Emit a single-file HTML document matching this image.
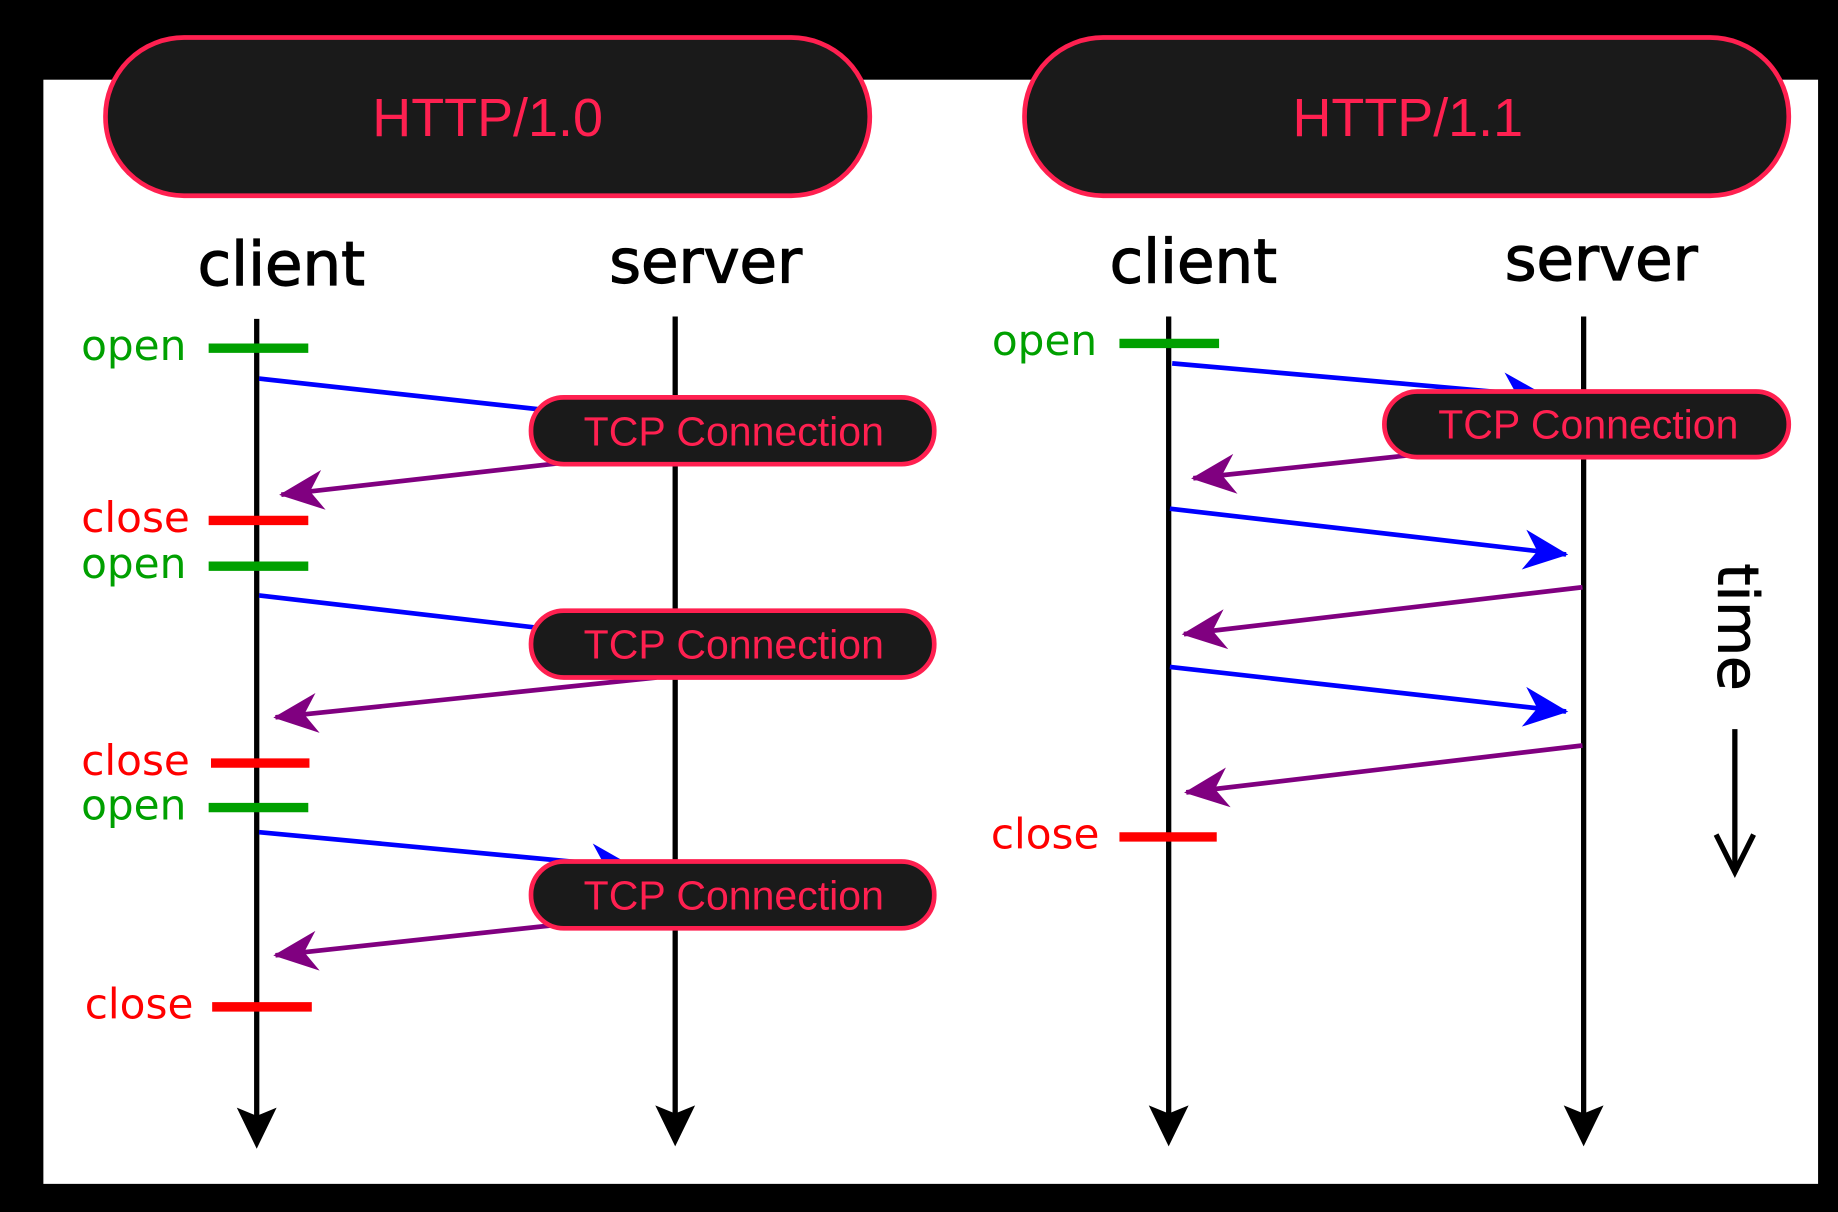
<!DOCTYPE html>
<html><head><meta charset="utf-8"><style>
html,body{margin:0;padding:0;background:#000;}
svg{display:block;}
</style></head><body>
<svg width="1838" height="1212" viewBox="0 0 1568 1034" preserveAspectRatio="none" xmlns="http://www.w3.org/2000/svg">
<defs>
<marker id="ab" viewBox="0 0 20 20" refX="19" refY="10" markerWidth="38" markerHeight="38" markerUnits="userSpaceOnUse" orient="auto"><path d="M0,1 L20,10 L0,19 L6,10 z" fill="#0000ff"/></marker>
<marker id="ap" viewBox="0 0 20 20" refX="19" refY="10" markerWidth="38" markerHeight="38" markerUnits="userSpaceOnUse" orient="auto"><path d="M0,1 L20,10 L0,19 L6,10 z" fill="#800080"/></marker>
</defs>
<rect x="0" y="0" width="1568" height="1034" fill="#000"/>
<rect x="37" y="68" width="1514" height="942" fill="#fff"/>

<g font-family="DejaVu Sans, sans-serif" font-size="52" fill="#000" stroke="#000" stroke-width="1" text-anchor="middle">
<text x="240" y="243">client</text><text x="602" y="241">server</text>
<text x="1018" y="241">client</text><text x="1366" y="239">server</text>
</g>

<g stroke="#000" stroke-width="4.5" fill="none">
<line x1="219" y1="272" x2="219" y2="960"/>
<line x1="576" y1="270" x2="576" y2="958"/>
<line x1="997" y1="270" x2="997" y2="958"/>
<line x1="1351" y1="270" x2="1351" y2="958"/>
<line x1="1480" y1="622" x2="1480" y2="742"/><polyline points="1464,712 1480,744 1496,712"/>
</g>
<g fill="#000">
<path d="M202,945 L219,952 L236,945 L219,980 z"/>
<path d="M559,943 L576,950 L593,943 L576,978 z"/>
<path d="M980,943 L997,950 L1014,943 L997,978 z"/>
<path d="M1334,943 L1351,950 L1368,943 L1351,978 z"/>
</g>

<g stroke-width="8">
<line x1="178" y1="297" x2="263" y2="297" stroke="#00a000"/>
<line x1="178" y1="444" x2="263" y2="444" stroke="#ff0000"/>
<line x1="178" y1="483" x2="263" y2="483" stroke="#00a000"/>
<line x1="180" y1="651" x2="264" y2="651" stroke="#ff0000"/>
<line x1="178" y1="689" x2="263" y2="689" stroke="#00a000"/>
<line x1="181" y1="859" x2="266" y2="859" stroke="#ff0000"/>
<line x1="955" y1="293" x2="1040" y2="293" stroke="#00a000"/>
<line x1="955" y1="714" x2="1038" y2="714" stroke="#ff0000"/>
</g>
<g font-family="DejaVu Sans, sans-serif" font-size="36" text-anchor="end">
<text x="159" y="307" fill="#00a000">open</text>
<text x="162" y="454" fill="#ff0000">close</text>
<text x="159" y="493" fill="#00a000">open</text>
<text x="162" y="661" fill="#ff0000">close</text>
<text x="159" y="699" fill="#00a000">open</text>
<text x="165" y="869" fill="#ff0000">close</text>
<text x="936" y="303" fill="#00a000">open</text>
<text x="938" y="724" fill="#ff0000">close</text>
</g>

<g stroke-width="4" fill="none">
<line x1="221" y1="323" x2="540" y2="358" stroke="#0000ff" marker-end="url(#ab)"/>
<line x1="540" y1="388" x2="240" y2="422" stroke="#800080" marker-end="url(#ap)"/>
<line x1="221" y1="508" x2="540" y2="545" stroke="#0000ff" marker-end="url(#ab)"/>
<line x1="560" y1="578" x2="235" y2="612" stroke="#800080" marker-end="url(#ap)"/>
<line x1="221" y1="710" x2="540" y2="740" stroke="#0000ff" marker-end="url(#ab)"/>
<line x1="540" y1="782" x2="235" y2="815" stroke="#800080" marker-end="url(#ap)"/>
<line x1="1000" y1="310" x2="1318" y2="338" stroke="#0000ff" marker-end="url(#ab)"/>
<line x1="1300" y1="378" x2="1018" y2="408" stroke="#800080" marker-end="url(#ap)"/>
<line x1="998" y1="434" x2="1336" y2="473" stroke="#0000ff" marker-end="url(#ab)"/>
<line x1="1350" y1="501" x2="1010" y2="541" stroke="#800080" marker-end="url(#ap)"/>
<line x1="998" y1="569" x2="1336" y2="607" stroke="#0000ff" marker-end="url(#ab)"/>
<line x1="1350" y1="636" x2="1012" y2="676" stroke="#800080" marker-end="url(#ap)"/>
</g>

<text transform="translate(1466,535) rotate(90)" font-family="DejaVu Sans, sans-serif" font-size="48" text-anchor="middle" fill="#000" stroke="#000" stroke-width="0.8">time</text>

<g fill="#1a1a1a" stroke="#ff2050" stroke-width="4">
<rect x="90" y="32" width="652" height="135" rx="67" ry="67"/>
<rect x="874" y="32" width="652" height="135" rx="67" ry="67"/>
<rect x="453" y="339" width="344" height="57" rx="28" ry="28"/>
<rect x="453" y="521" width="344" height="57" rx="28" ry="28"/>
<rect x="453" y="735" width="344" height="57" rx="28" ry="28"/>
<rect x="1181" y="334" width="345" height="56" rx="28" ry="28"/>
</g>
<g font-family="Liberation Sans, sans-serif" fill="#ff2050" text-anchor="middle">
<text x="416" y="116" font-size="46">HTTP/1.0</text>
<text x="1201" y="116" font-size="46">HTTP/1.1</text>
<text x="626" y="380" font-size="35">TCP Connection</text>
<text x="626" y="562" font-size="35">TCP Connection</text>
<text x="626" y="776" font-size="35">TCP Connection</text>
<text x="1355" y="374" font-size="35">TCP Connection</text>
</g>
</svg>
</body></html>
